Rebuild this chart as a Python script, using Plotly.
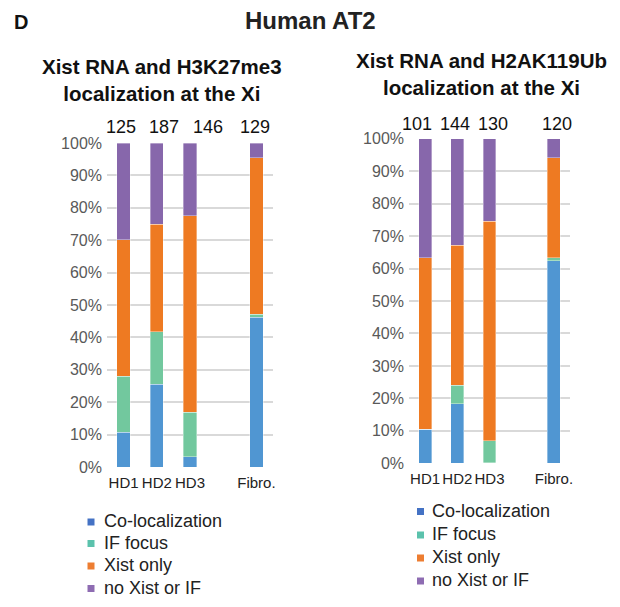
import plotly.graph_objects as go

# ---- data ----
categories = ["HD1", "HD2", "HD3", "Fibro."]
slots = [0, 1, 2, 4]  # Fibro. sits after an empty slot
series_names = ["Co-localization", "IF focus", "Xist only", "no Xist or IF"]

# Left: Xist RNA and H3K27me3 (percent)
left_coloc = [10.8, 25.6, 3.1, 46.2]
left_iffocus = [17.2, 16.2, 13.8, 0.9]
left_xist = [42.2, 33.1, 60.7, 48.4]
left_none = [29.8, 25.1, 22.4, 4.5]
left_counts = ["125", "187", "146", "129"]

# Right: Xist RNA and H2AK119Ub (percent)
right_coloc = [10.5, 18.4, 0.2, 62.4]
right_iffocus = [0.0, 5.7, 6.7, 0.9]
right_xist = [52.9, 43.1, 67.7, 30.8]
right_none = [36.6, 32.8, 25.4, 5.9]
right_counts = ["101", "144", "130", "120"]

bar_colors = ["#5096D2", "#72C89E", "#EE7A22", "#8767AB"]
legend_colors = ["#4472C4", "#5BC2AC", "#ED7D31", "#8E6CB2"]

FONT = "Arial, Liberation Sans, sans-serif"

# the page body adds an 8px margin, so the figure is sized to the visible area
OFF = 8
W, H = 620 - OFF, 607 - OFF


def px(x):
    return (x - OFF) / W


def py(y):
    return 1 - (y - OFF) / H


fig = go.Figure()

left = [left_coloc, left_iffocus, left_xist, left_none]
right = [right_coloc, right_iffocus, right_xist, right_none]

for name, vals, col in zip(series_names, left, bar_colors):
    fig.add_trace(go.Bar(x=slots, y=vals, name=name,
                         marker=dict(color=col, line=dict(color="rgba(255,255,255,0.6)", width=0.6)),
                         width=0.4, showlegend=False, xaxis="x", yaxis="y"))
for name, vals, col in zip(series_names, right, bar_colors):
    fig.add_trace(go.Bar(x=slots, y=vals, name=name,
                         marker=dict(color=col, line=dict(color="rgba(255,255,255,0.6)", width=0.6)),
                         width=0.4, showlegend=False, xaxis="x2", yaxis="y2"))

xcommon = dict(range=[-0.5, 4.5], tickvals=slots, ticktext=categories, showgrid=False,
               zeroline=False, showline=False, ticks="", ticklabelstandoff=5, tickangle=0,
               automargin=False, fixedrange=True,
               tickfont=dict(family=FONT, size=15, color="#222222"))
ycommon = dict(range=[0, 100], dtick=10, ticksuffix="%", showgrid=True, gridcolor="#D9D9D9",
               gridwidth=2, zeroline=False, showline=False, ticks="", ticklabelstandoff=4,
               automargin=False,
               tickfont=dict(family=FONT, size=16, color="#595959"), fixedrange=True)

annotations = [
    dict(text="<b>D</b>", x=px(12), y=py(22), xref="paper", yref="paper", xanchor="left", yanchor="middle",
         showarrow=False, font=dict(family=FONT, size=20, color="#111111")),
    dict(text="<b>Human AT2</b>", x=px(310), y=py(20), xref="paper", yref="paper", xanchor="center",
         yanchor="middle", showarrow=False, font=dict(family=FONT, size=24, color="#222222")),
    dict(text="<b>Xist RNA and H3K27me3<br>localization at the Xi</b>", x=px(162), y=py(80), xref="paper",
         yref="paper", xanchor="center", yanchor="middle", showarrow=False,
         font=dict(family=FONT, size=20.5, color="#111111")),
    dict(text="<b>Xist RNA and H2AK119Ub<br>localization at the Xi</b>", x=px(481), y=py(74), xref="paper",
         yref="paper", xanchor="center", yanchor="middle", showarrow=False,
         font=dict(family=FONT, size=20.5, color="#111111")),
]

left_shift = [-3, 7, 18, -1]
right_shift = [-8, -2, 3, 3]
for s, c, sh in zip(slots, left_counts, left_shift):
    annotations.append(dict(text=c, x=s, y=100, xref="x", yref="y", yanchor="bottom", yshift=4, xshift=sh,
                            showarrow=False, font=dict(family=FONT, size=18, color="#111111")))
for s, c, sh in zip(slots, right_counts, right_shift):
    annotations.append(dict(text=c, x=s, y=100, xref="x2", yref="y2", yanchor="bottom", yshift=3, xshift=sh,
                            showarrow=False, font=dict(family=FONT, size=18, color="#111111")))

# manual legends (marker square + text) under each chart
shapes = []
legend_layouts = [
    dict(mx=91, tx=102, rows=[521, 542.5, 565, 587.5]),
    dict(mx=420.5, tx=430, rows=[510.5, 534, 557, 580]),
]
for lg in legend_layouts:
    for name, col, ry in zip(series_names, legend_colors, lg["rows"]):
        shapes.append(dict(type="rect", xref="paper", yref="paper",
                           x0=px(lg["mx"] - 3.5), x1=px(lg["mx"] + 3.5),
                           y0=py(ry + 4.5), y1=py(ry - 2.5),
                           fillcolor=col, line=dict(width=0)))
        annotations.append(dict(text=name, x=px(lg["tx"]), y=py(ry), xref="paper", yref="paper",
                                xanchor="left", yanchor="middle", showarrow=False,
                                font=dict(family=FONT, size=18, color="#222222")))

fig.update_layout(
    width=W, height=H,
    margin=dict(l=0, r=0, t=0, b=0),
    paper_bgcolor="white", plot_bgcolor="white",
    barmode="stack",
    showlegend=False,
    xaxis=dict(domain=[px(107), px(273)], anchor="y", **xcommon),
    yaxis=dict(domain=[py(467), py(143)], anchor="x", **ycommon),
    xaxis2=dict(domain=[px(409), px(570)], anchor="y2", **xcommon),
    yaxis2=dict(domain=[py(463.3), py(138.7)], anchor="x2", **ycommon),
    annotations=annotations,
    shapes=shapes,
)

fig.write_html("out.html")
